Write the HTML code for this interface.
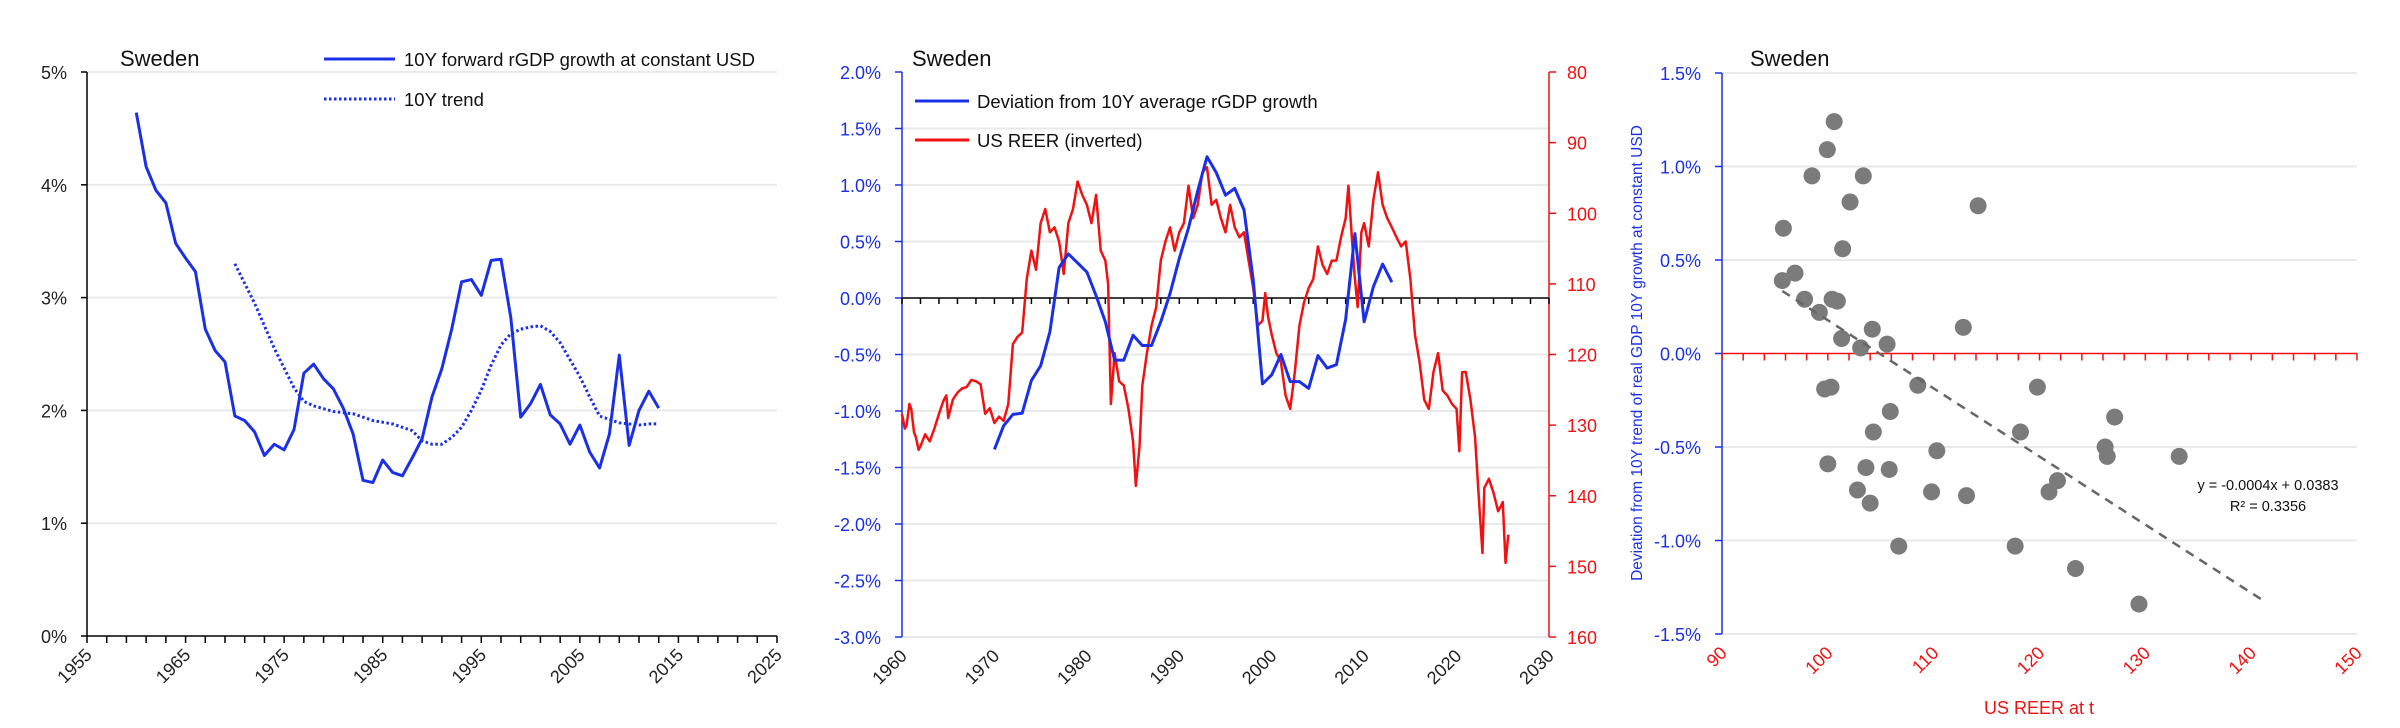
<!DOCTYPE html>
<html><head><meta charset="utf-8">
<style>
html,body{margin:0;padding:0;background:#fff;}
svg{display:block;font-family:"Liberation Sans",sans-serif;}
</style></head>
<body>
<svg id="svg" width="2400" height="728" viewBox="0 0 2400 728" xmlns="http://www.w3.org/2000/svg"></svg>
<script>
// ---------- Chart 1 data ----------
const c1Years = [1960,1961,1962,1963,1964,1965,1966,1967,1968,1969,1970,1971,1972,1973,1974,1975,1976,1977,1978,1979,1980,1981,1982,1983,1984,1985,1986,1987,1988,1989,1990,1991,1992,1993,1994,1995,1996,1997,1998,1999,2000,2001,2002,2003,2004,2005,2006,2007,2008,2009,2010,2011,2012,2013];
const c1Growth = [4.64,4.16,3.95,3.84,3.48,3.35,3.23,2.72,2.53,2.43,1.95,1.91,1.81,1.60,1.70,1.65,1.83,2.33,2.41,2.28,2.19,2.02,1.79,1.38,1.36,1.56,1.45,1.42,1.58,1.75,2.12,2.37,2.72,3.14,3.16,3.02,3.33,3.34,2.82,1.94,2.06,2.23,1.96,1.88,1.70,1.87,1.63,1.49,1.79,2.49,1.69,2.00,2.17,2.02];
const c1TrendYears = [1970,1972,1974,1976,1977,1978,1980,1982,1984,1986,1988,1989,1990,1991,1992,1993,1994,1995,1996,1997,1998,1999,2000,2001,2002,2003,2004,2005,2006,2007,2008,2009,2010,2011,2012,2013];
const c1Trend = [3.30,2.95,2.55,2.20,2.08,2.04,1.99,1.97,1.91,1.88,1.82,1.73,1.70,1.70,1.76,1.85,2.00,2.18,2.40,2.58,2.68,2.72,2.74,2.75,2.70,2.60,2.45,2.30,2.12,1.95,1.92,1.89,1.88,1.87,1.88,1.88];
const c1YTicks = [0,1,2,3,4,5];
const c1XTicks = [1955,1965,1975,1985,1995,2005,2015,2025];

// ---------- Chart 2 data ----------
const c2Years = [1970,1971,1972,1973,1974,1975,1976,1977,1978,1979,1980,1981,1982,1983,1984,1985,1986,1987,1988,1989,1990,1991,1992,1993,1994,1995,1996,1997,1998,1999,2000,2001,2002,2003,2004,2005,2006,2007,2008,2009,2010,2011,2012,2013];
const c2Dev = [-1.34,-1.13,-1.03,-1.02,-0.73,-0.60,-0.30,0.27,0.39,0.31,0.23,0.02,-0.21,-0.55,-0.55,-0.33,-0.42,-0.42,-0.21,0.04,0.35,0.62,0.95,1.25,1.11,0.91,0.97,0.78,0.16,-0.76,-0.68,-0.50,-0.74,-0.74,-0.80,-0.51,-0.62,-0.59,-0.19,0.57,-0.21,0.10,0.30,0.14];
const c2ReerT = [1960,1960.3,1960.5,1960.8,1961,1961.3,1961.5,1961.8,1962,1962.5,1963,1963.5,1964,1964.5,1964.8,1965,1965.5,1966,1966.5,1967,1967.5,1968,1968.5,1969,1969.5,1970,1970.5,1971,1971.5,1972,1972.5,1973,1973.5,1974,1974.5,1975,1975.5,1976,1976.5,1977,1977.5,1978,1978.5,1979,1979.5,1980,1980.5,1981,1981.5,1982,1982.3,1982.6,1983,1983.5,1984,1984.5,1985,1985.3,1985.7,1986,1986.5,1987,1987.5,1988,1988.5,1989,1989.5,1990,1990.5,1991,1991.5,1992,1992.5,1993,1993.5,1994,1994.5,1995,1995.5,1996,1996.5,1997,1997.5,1998,1998.5,1999,1999.3,1999.6,2000,2000.5,2001,2001.5,2002,2002.5,2003,2003.5,2004,2004.5,2005,2005.5,2006,2006.5,2007,2007.5,2008,2008.3,2008.7,2009,2009.3,2009.7,2010,2010.5,2011,2011.5,2012,2012.5,2013,2013.5,2014,2014.5,2015,2015.5,2016,2016.5,2017,2017.5,2018,2018.5,2019,2019.5,2020,2020.3,2020.6,2021,2021.5,2022,2022.5,2022.8,2023,2023.5,2024,2024.5,2025,2025.3,2025.6];
const c2Reer = [128.4,130.5,130,127,127.7,131,131.7,133.5,133,131.3,132.3,130.5,128.4,126.5,125.8,129,126.4,125.4,124.8,124.6,123.6,123.8,124.2,128.4,127.6,129.7,128.8,129.4,127,118.5,117.5,116.9,109.3,105.3,108,101.4,99.4,102.7,102,104,108.6,101.4,99.4,95.5,97.4,98.8,101.4,97.4,105.3,106.7,110,127,119.8,123.8,124.4,127.7,132.3,138.6,133,124.4,119.8,115.9,113.3,106.7,104,102,105.3,102.7,101.4,96.1,100.7,98.8,94.2,93.5,98.8,98.1,100.7,102.7,98.8,102,103.4,102.7,106.7,110.6,115.9,115.2,111.3,114.6,117.2,119.8,121.1,125.8,127.7,122.5,115.9,112.6,110.6,109.3,104.7,107.3,108.6,106.7,106.7,103.4,100.7,96.1,104,109.3,113.3,102.7,101.4,104.7,98.1,94.2,98.8,100.7,102,103.4,104.7,104,109.3,117.2,121.1,126.4,127.7,122.5,119.8,125.1,125.8,127,127.7,133.7,122.5,122.5,126.4,131.7,142.2,148.1,138.9,137.6,139.6,142.2,140.9,149.5,145.5];
const c2LeftTicks = [2.0,1.5,1.0,0.5,0.0,-0.5,-1.0,-1.5,-2.0,-2.5,-3.0];
const c2RightTicks = [80,90,100,110,120,130,140,150,160];
const c2XTicks = [1960,1970,1980,1990,2000,2010,2020,2030];

// ---------- Chart 3 data ----------
const c3Reer = [100.6,99.95,98.5,103.35,102.1,114.2,95.8,101.4,96.9,95.7,97.8,100.4,100.9,99.2,104.2,112.8,101.3,105.6,103.1,108.5,119.8,99.7,100.3,105.9,127.1,104.3,118.2,110.3,126.2,126.4,133.2,100.0,103.6,105.8,121.7,102.8,109.8,113.1,120.9,104.0,106.7,117.7,123.4,129.4];
const c3Dev = [1.24,1.09,0.95,0.95,0.81,0.79,0.67,0.56,0.43,0.39,0.29,0.29,0.28,0.22,0.13,0.14,0.08,0.05,0.03,-0.17,-0.18,-0.19,-0.18,-0.31,-0.34,-0.42,-0.42,-0.52,-0.50,-0.55,-0.55,-0.59,-0.61,-0.62,-0.68,-0.73,-0.74,-0.76,-0.74,-0.80,-1.03,-1.03,-1.15,-1.34];
const c3YTicks = [1.5,1.0,0.5,0.0,-0.5,-1.0,-1.5];
const c3XTicks = [90,100,110,120,130,140,150];

const NS='http://www.w3.org/2000/svg';
const svg=document.getElementById('svg');
function mk(tag,attrs,parent){const e=document.createElementNS(NS,tag);for(const k in attrs)e.setAttribute(k,attrs[k]);(parent||svg).appendChild(e);return e;}
function txt(s,attrs,parent){const e=mk('text',attrs,parent);e.textContent=s;return e;}
const BLUE='#1b30e6', RED='#f01212', GRID='#e9e9e9';

// ===== Chart 1 =====
(function(){
  const g=mk('g',{});
  
  
  const X=y=>87+(y-1955)*(690/70), Y=v=>636-v*(564/5);
  c1YTicks.forEach(v=>{
    if(v>0){const l=mk('line',{x1:87,x2:777,y1:Y(v),y2:Y(v),stroke:GRID,'stroke-width':2},g);}
    mk('line',{x1:81,x2:87,y1:Y(v),y2:Y(v),stroke:'#000','stroke-width':1.5},g);
    const t=txt(v+'%',{x:67,y:Y(v)+7,'text-anchor':'end','font-size':18,fill:'#222'},g);
    
  });
  mk('line',{x1:87,x2:87,y1:Y(5),y2:Y(0),stroke:'#000','stroke-width':1.5},g);
  mk('line',{x1:87,x2:777,y1:Y(0),y2:Y(0),stroke:'#000','stroke-width':1.5},g);
  for(let y=1955;y<=2025;y+=2.5){}
  for(let i=0;i<=35;i++){const x=87+i*(690/35);mk('line',{x1:x,x2:x,y1:Y(0),y2:Y(0)+7,stroke:'#000','stroke-width':1.5},g);}
  c1XTicks.forEach(y=>{const t=txt(String(y),{x:0,y:0,'text-anchor':'end','font-size':18,fill:'#222',transform:`translate(${X(y)+6},${Y(0)+20}) rotate(-45)`},g);});
  const p1=mk('polyline',{points:c1Years.map((y,i)=>X(y)+','+Y(c1Growth[i])).join(' '),fill:'none',stroke:BLUE,'stroke-width':3,'stroke-linejoin':'round'},g);
  
  const p2=mk('polyline',{points:c1TrendYears.map((y,i)=>X(y)+','+Y(c1Trend[i])).join(' '),fill:'none',stroke:BLUE,'stroke-width':3,'stroke-dasharray':'2.5 2.5'},g);
  
  const tt=txt('Sweden',{x:120,y:66,'font-size':22,fill:'#111'},g);
  mk('line',{x1:324,x2:395,y1:59,y2:59,stroke:BLUE,'stroke-width':3},g);
  const l1=txt('10Y forward rGDP growth at constant USD',{x:404,y:66,'font-size':18.5,fill:'#111'},g);
  mk('line',{x1:324,x2:395,y1:99,y2:99,stroke:BLUE,'stroke-width':3,'stroke-dasharray':'2.5 2.5'},g);
  const l2=txt('10Y trend',{x:404,y:106,'font-size':18.5,fill:'#111'},g);
})();

// ===== Chart 2 =====
(function(){
  const g=mk('g',{});
  
  
  const L=902,R=1549,T=72,B=637;
  const X=y=>L+(y-1960)*((R-L)/70), Y=v=>T+(2-v)*((B-T)/5), YR=v=>T+(v-80)*((B-T)/80);
  c2LeftTicks.forEach(v=>{
    if(Math.abs(v)>1e-9&&v<2){mk('line',{x1:L,x2:R,y1:Y(v),y2:Y(v),stroke:GRID,'stroke-width':2},g);}
    mk('line',{x1:L-7,x2:L,y1:Y(v),y2:Y(v),stroke:BLUE,'stroke-width':1.5},g);
    const t=txt(v.toFixed(1)+'%',{x:881,y:Y(v)+7,'text-anchor':'end','font-size':18,fill:BLUE},g);
  });
  mk('line',{x1:L,x2:L,y1:T,y2:B,stroke:BLUE,'stroke-width':1.5},g);
  c2RightTicks.forEach(v=>{
    mk('line',{x1:R,x2:R+7,y1:YR(v),y2:YR(v),stroke:RED,'stroke-width':1.5},g);
    const t=txt(String(v),{x:1567,y:YR(v)+7,'font-size':18,fill:RED},g);
  });
  mk('line',{x1:R,x2:R,y1:T,y2:B,stroke:RED,'stroke-width':1.5},g);
  mk('line',{x1:L,x2:R,y1:Y(0),y2:Y(0),stroke:'#000','stroke-width':1.5},g);
  for(let i=0;i<=35;i++){const x=L+i*((R-L)/35);mk('line',{x1:x,x2:x,y1:Y(0),y2:Y(0)+6,stroke:'#000','stroke-width':1.5},g);}
  c2XTicks.forEach(y=>{const t=txt(String(y),{x:0,y:0,'text-anchor':'end','font-size':18,fill:'#222',transform:`translate(${X(y)+6},${B+20}) rotate(-45)`},g);});
  const pr=mk('polyline',{points:c2ReerT.map((y,i)=>X(y)+','+YR(c2Reer[i])).join(' '),fill:'none',stroke:RED,'stroke-width':2.5,'stroke-linejoin':'round'},g);
  
  const pb=mk('polyline',{points:c2Years.map((y,i)=>X(y)+','+Y(c2Dev[i])).join(' '),fill:'none',stroke:BLUE,'stroke-width':3,'stroke-linejoin':'round'},g);
  
  const tt=txt('Sweden',{x:912,y:66,'font-size':22,fill:'#111'},g);
  mk('line',{x1:915,x2:969,y1:101,y2:101,stroke:BLUE,'stroke-width':3},g);
  const l1=txt('Deviation from 10Y average rGDP growth',{x:977,y:108,'font-size':18.5,fill:'#111'},g);
  mk('line',{x1:915,x2:969,y1:140,y2:140,stroke:RED,'stroke-width':3},g);
  const l2=txt('US REER (inverted)',{x:977,y:147,'font-size':18.5,fill:'#111'},g);
})();

// ===== Chart 3 =====
(function(){
  const g=mk('g',{});
  
  
  const L=1722,R=2357,T=73,B=634;
  const X=v=>L+(v-90)*((R-L)/60), Y=v=>T+(1.5-v)*((B-T)/3);
  c3YTicks.forEach(v=>{
    if(Math.abs(v)>1e-9){mk('line',{x1:L,x2:R,y1:Y(v),y2:Y(v),stroke:GRID,'stroke-width':2},g);}
    mk('line',{x1:L-7,x2:L,y1:Y(v),y2:Y(v),stroke:BLUE,'stroke-width':1.5},g);
    const t=txt(v.toFixed(1)+'%',{x:1701,y:Y(v)+7,'text-anchor':'end','font-size':18,fill:BLUE},g);
  });
  mk('line',{x1:L,x2:L,y1:T,y2:B,stroke:BLUE,'stroke-width':1.5},g);
  mk('line',{x1:L,x2:R,y1:Y(0),y2:Y(0),stroke:RED,'stroke-width':1.5},g);
  for(let i=0;i<=30;i++){const x=L+i*((R-L)/30);mk('line',{x1:x,x2:x,y1:Y(0),y2:Y(0)+7,stroke:RED,'stroke-width':1.5},g);}
  c3XTicks.forEach(v=>{const t=txt(String(v),{x:0,y:0,'text-anchor':'end','font-size':18,fill:RED,transform:`translate(${X(v)+6},${B+20}) rotate(-45)`},g);});
  c3Reer.forEach((v,i)=>{const c=mk('circle',{cx:X(v),cy:Y(c3Dev[i]),r:8.5,fill:'#7b7b7b'},g);});
  // least squares trendline
  const n=c3Reer.length,mx=c3Reer.reduce((a,b)=>a+b)/n,my=c3Dev.reduce((a,b)=>a+b)/n;
  let sxy=0,sxx=0;for(let i=0;i<n;i++){sxy+=(c3Reer[i]-mx)*(c3Dev[i]-my);sxx+=(c3Reer[i]-mx)**2;}
  const b=sxy/sxx,a=my-b*mx,x0=Math.min(...c3Reer),x1=141;
  const tl=mk('line',{x1:X(x0),y1:Y(a+b*x0),x2:X(x1),y2:Y(a+b*x1),stroke:'#666','stroke-width':2.5,'stroke-dasharray':'9 7'},g);
  
  const e1=txt('y = -0.0004x + 0.0383',{x:2268,y:490,'text-anchor':'middle','font-size':14.5,fill:'#111'},g);
  const e2=txt('R² = 0.3356',{x:2268,y:511,'text-anchor':'middle','font-size':14.5,fill:'#111'},g);
  const tt=txt('Sweden',{x:1750,y:66,'font-size':22,fill:'#111'},g);
  const xt=txt('US REER at t',{x:2039,y:714,'text-anchor':'middle','font-size':18,fill:RED},g);
  const yt=txt('Deviation from 10Y trend of real GDP 10Y growth at constant USD',{x:0,y:0,'text-anchor':'middle','font-size':15.5,fill:BLUE,transform:'translate(1642,353) rotate(-90)'},g);
})();
</script>
</body></html>
